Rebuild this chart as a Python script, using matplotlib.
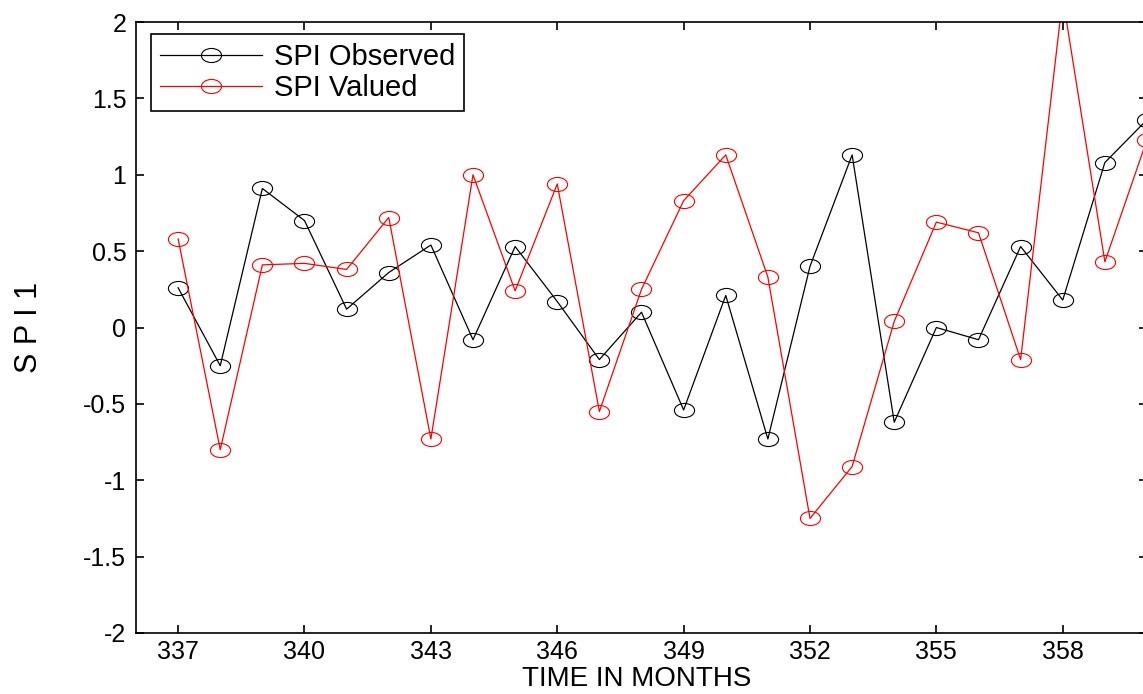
import matplotlib
matplotlib.use('Agg')
import matplotlib.pyplot as plt
from matplotlib.path import Path

months = list(range(337, 361))
spi_observed = [0.26, -0.25, 0.91, 0.70, 0.12, 0.36, 0.54, -0.08, 0.53, 0.17,
                -0.21, 0.10, -0.54, 0.21, -0.73, 0.40, 1.13, -0.62, 0.00, -0.08,
                0.53, 0.18, 1.08, 1.36]
spi_valued = [0.58, -0.80, 0.41, 0.42, 0.38, 0.72, -0.73, 1.00, 0.24, 0.94,
              -0.55, 0.25, 0.83, 1.13, 0.33, -1.25, -0.91, 0.04, 0.69, 0.62,
              -0.21, 2.16, 0.43, 1.23]
x_ticks = [337, 340, 343, 346, 349, 352, 355, 358]
y_ticks = [-2, -1.5, -1, -0.5, 0, 0.5, 1, 1.5, 2]
y_tick_labels = ['-2', '-1.5', '-1', '-0.5', '0', '0.5', '1', '1.5', '2']
series_labels = ['SPI Observed', 'SPI Valued']

plt.rcParams['font.family'] = ['Liberation Sans', 'DejaVu Sans']

W, H = 1143, 694
fig = plt.figure(figsize=(W / 100, H / 100), dpi=100)
ax = fig.add_axes([136 / W, 61 / H, 1011 / W, 611 / H])

circ = Path.unit_circle()
ellipse = Path(circ.vertices * [1.0, 0.7], circ.codes)

ax.plot(months, spi_observed, color='black', lw=0.9, marker=ellipse,
        markersize=14.5, markerfacecolor='none', markeredgecolor='black',
        markeredgewidth=0.8, label=series_labels[0])
ax.plot(months, spi_valued, color='#ff0000', lw=0.9, marker=ellipse,
        markersize=14.5, markerfacecolor='none', markeredgecolor='#ff0000',
        markeredgewidth=0.8, label=series_labels[1])

ax.set_xlim(336, 360)
ax.set_ylim(-2, 2)
ax.set_xticks(x_ticks)
ax.set_xticklabels([str(v) for v in x_ticks])
ax.set_yticks(y_ticks)
ax.set_yticklabels(y_tick_labels)
ax.tick_params(axis='both', direction='in', length=6, width=1.2,
               labelsize=18, top=True, right=True, colors='black')
ax.tick_params(axis='x', pad=5)
ax.tick_params(axis='y', pad=7)
for sp in ax.spines.values():
    sp.set_linewidth(1.2)

ax.set_xlabel('TIME IN MONTHS', fontsize=20, va='bottom')
ax.xaxis.set_label_coords((637 - 136) / 1011, -(61 - 1.5) / 611)
ax.set_ylabel('S P I 1', fontsize=22, labelpad=28)

leg = ax.legend(loc='upper left', bbox_to_anchor=((151 - 136) / 1011, (633 - 34) / 611),
                borderaxespad=0, fancybox=False, edgecolor='black', framealpha=1,
                fontsize=21, handlelength=3.5, handletextpad=0.4,
                borderpad=0.3, labelspacing=0.12)
leg.get_frame().set_linewidth(1.2)

fig.savefig('out.png', dpi=100)
